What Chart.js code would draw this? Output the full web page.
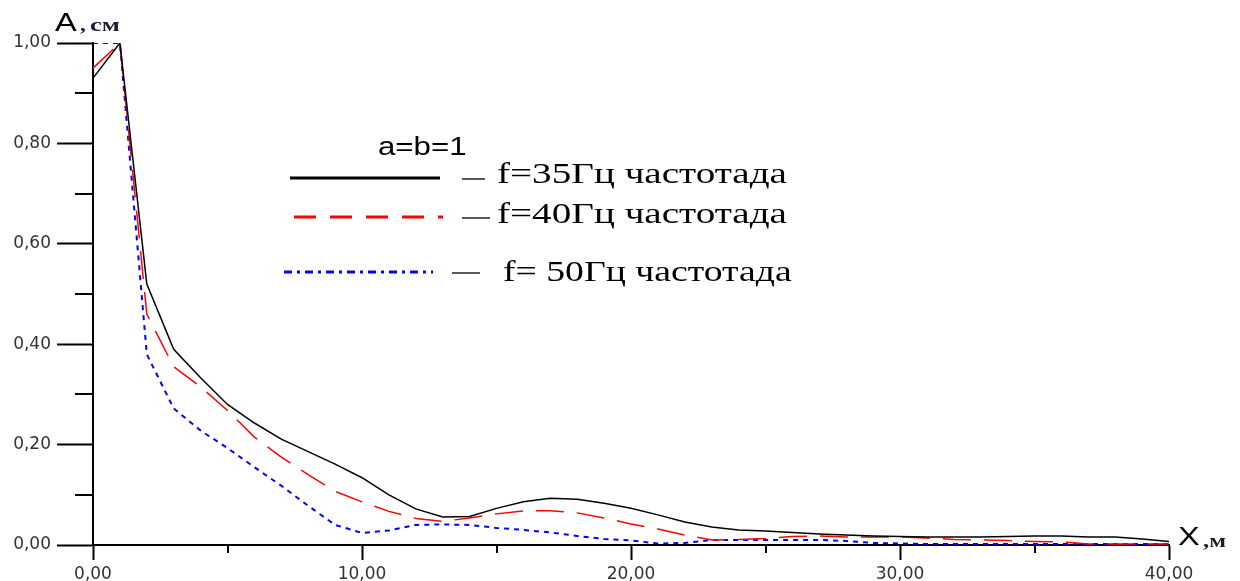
<!DOCTYPE html>
<html>
<head>
<meta charset="utf-8">
<script src="https://cdn.jsdelivr.net/npm/chart.js@4"></script>
<style>
  html, body { margin: 0; padding: 0; background: #fff; }
  #wrap { width: 1240px; height: 581px; }
</style>
</head>
<body>
<div id="wrap"><canvas id="ampChart" width="1240" height="581"></canvas></div>
<script>
// distance X, m
const xValues = [0, 1, 2, 3, 4, 5, 6, 7, 8, 9, 10, 11, 12, 13, 14, 15, 16, 17, 18, 19, 20,
  21, 22, 23, 24, 25, 26, 27, 28, 29, 30, 31, 32, 33, 34, 35, 36, 37, 38, 39, 40];
// amplitude A, cm  (a=b=1)
const amp35 = [0.93, 1.00, 0.52, 0.39, 0.333, 0.28, 0.243, 0.211, 0.186, 0.161, 0.134,
  0.100, 0.072, 0.056, 0.057, 0.073, 0.086, 0.093, 0.091, 0.083, 0.073,
  0.060, 0.046, 0.036, 0.030, 0.028, 0.025, 0.022, 0.020, 0.018, 0.017,
  0.016, 0.016, 0.016, 0.017, 0.018, 0.018, 0.016, 0.016, 0.012, 0.007];
const amp40 = [0.95, 1.00, 0.46, 0.355, 0.315, 0.268, 0.215, 0.175, 0.140, 0.107, 0.086,
  0.067, 0.053, 0.047, 0.054, 0.062, 0.068, 0.068, 0.064, 0.054, 0.042,
  0.032, 0.020, 0.010, 0.011, 0.013, 0.017, 0.018, 0.016, 0.016, 0.016,
  0.014, 0.011, 0.010, 0.009, 0.007, 0.006, 0.002, 0.002, 0.002, 0.002];
const amp50 = [1.00, 1.00, 0.38, 0.272, 0.228, 0.193, 0.155, 0.118, 0.078, 0.040, 0.024,
  0.029, 0.040, 0.041, 0.040, 0.034, 0.030, 0.025, 0.018, 0.012, 0.009,
  0.003, 0.004, 0.010, 0.010, 0.010, 0.010, 0.010, 0.008, 0.004, 0.003,
  0.002, 0.002, 0.002, 0.002, 0.002, 0.002, 0.002, 0.002, 0.002, 0.002];

const seriesNames = ["f=35Гц частотада", "f=40Гц частотада", "f= 50Гц частотада"];
const legendTitle = "a=b=1";
const xMajorTicks = [0, 10, 20, 30, 40];
const xMinorTicks = [5, 15, 25, 35];
const yMajorTicks = [0, 0.2, 0.4, 0.6, 0.8, 1.0];
const yMinorTicks = [0.1, 0.3, 0.5, 0.7, 0.9];

const fmt = (v) => Number(v).toFixed(2).replace(".", ",");
const toPoints = (arr) => arr.map((y, i) => ({ x: xValues[i], y: y }));

// stretched text helper (the figure is wider than the font)
function stretchText(ctx, text, x, y, font, sx, color) {
  ctx.save();
  ctx.font = font;
  ctx.fillStyle = color || "#000";
  ctx.textBaseline = "alphabetic";
  ctx.textAlign = "left";
  ctx.translate(x, y);
  ctx.scale(sx, 1);
  ctx.fillText(text, 0, 0);
  ctx.restore();
}

function line(ctx, x0, y0, x1, y1, color, width, dash) {
  ctx.save();
  ctx.strokeStyle = color;
  ctx.lineWidth = width;
  ctx.setLineDash(dash || []);
  ctx.beginPath();
  ctx.moveTo(x0, y0);
  ctx.lineTo(x1, y1);
  ctx.stroke();
  ctx.restore();
}

// minor ticks, axis titles and the hand-drawn legend
const decor = {
  id: "decor",
  afterDraw(chart) {
    const ctx = chart.ctx;
    const xs = chart.scales.x, ys = chart.scales.y;
    const area = chart.chartArea;

    yMinorTicks.forEach((v) => {
      const py = Math.round(ys.getPixelForValue(v));
      line(ctx, area.left - 18, py, area.left, py, "#000", 2);
    });
    xMinorTicks.forEach((v) => {
      const px = Math.round(xs.getPixelForValue(v));
      line(ctx, px, area.bottom, px, area.bottom + 8, "#000", 2);
    });

    // axis titles
    stretchText(ctx, "A", 55, 31, "25px 'Liberation Sans'", 1.3);
    stretchText(ctx, ",", 80, 31, "bold 18px 'Liberation Serif'", 1.3, "#1c1c30");
    stretchText(ctx, "см", 90, 31, "bold 19px 'Liberation Serif'", 1.4, "#1c1c30");
    stretchText(ctx, "X", 1178, 545, "25px 'Liberation Sans'", 1.3);
    stretchText(ctx, ",м", 1203, 547, "bold 19px 'Liberation Serif'", 1.3, "#1c1c30");

    // legend
    stretchText(ctx, legendTitle, 378, 155, "26px 'Liberation Sans'", 1.2);
    const items = [
      { y: 178, x0: 290, x1: 440, color: "#000", dash: [], w: 3, s0: 462, s1: 485, ty: 183, tx: 497 },
      { y: 217, x0: 294, x1: 443, color: "#ff0000", dash: [22, 14], w: 3, s0: 462, s1: 490, ty: 223, tx: 497 },
      { y: 272, x0: 284, x1: 433, color: "#0000ff", dash: [8, 5, 3, 5], w: 3, s0: 452, s1: 480, ty: 281, tx: 503 },
    ];
    items.forEach((it, i) => {
      line(ctx, it.x0, it.y, it.x1, it.y, it.color, it.w, it.dash);
      line(ctx, it.s0, it.y + 1, it.s1, it.y + 1, "#000", 1.3);
      const sx = i === 2 ? 1.3 : 1.35;
      stretchText(ctx, seriesNames[i], it.tx, it.ty, "29px 'Liberation Serif'", sx);
    });
  },
};

const tickFont = { family: "'DejaVu Sans', Verdana, sans-serif", size: 17 };

new Chart(document.getElementById("ampChart"), {
  type: "line",
  data: {
    datasets: [
      { label: seriesNames[0], data: toPoints(amp35), borderColor: "#000", borderWidth: 1.5, pointRadius: 0, tension: 0 },
      { label: seriesNames[1], data: toPoints(amp40), borderColor: "#ff0000", borderWidth: 1.5, borderDash: [28, 13], pointRadius: 0, tension: 0 },
      { label: seriesNames[2], data: toPoints(amp50), borderColor: "#0000ff", borderWidth: 2, borderDash: [5, 5], pointRadius: 0, tension: 0 },
    ],
  },
  options: {
    responsive: false,
    animation: false,
    layout: { padding: { top: 43, right: 71, left: 0, bottom: 0 } },
    plugins: { legend: { display: false }, tooltip: { enabled: false } },
    scales: {
      x: {
        type: "linear",
        min: 0,
        max: 40,
        afterBuildTicks: (s) => { s.ticks = xMajorTicks.map((v) => ({ value: v })); },
        afterFit: (s) => { s.height = 36; },
        grid: { display: true, drawOnChartArea: false, tickLength: 15, tickColor: "#000", tickWidth: 2 },
        border: { color: "#000", width: 2 },
        ticks: { padding: 4, font: tickFont, color: "#333", maxRotation: 0, callback: fmt },
      },
      y: {
        min: 0,
        max: 1,
        afterBuildTicks: (s) => { s.ticks = yMajorTicks.map((v) => ({ value: v })); },
        afterFit: (s) => { s.width = 93; },
        grid: { display: true, drawOnChartArea: false, tickLength: 36, tickColor: "#000", tickWidth: 2 },
        border: { color: "#000", width: 2 },
        ticks: { padding: 6, font: tickFont, color: "#333", callback: fmt },
      },
    },
  },
  plugins: [decor],
});
</script>
</body>
</html>
